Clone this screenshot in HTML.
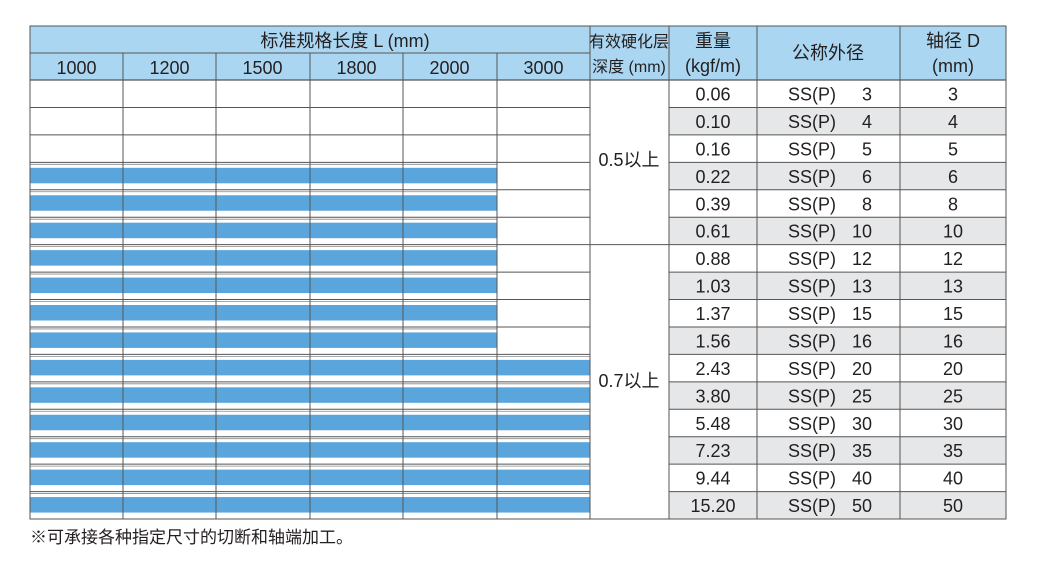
<!DOCTYPE html><html><head><meta charset="utf-8"><style>body{margin:0;background:#fff}svg text{font-family:"Liberation Sans","Noto Sans CJK SC",sans-serif;fill:#231f20}</style></head><body>
<svg width="1039" height="566" xmlns="http://www.w3.org/2000/svg">
<rect x="30" y="26" width="976" height="54" fill="#abd6f1"/>
<g id="rows"></g>
</svg>
<script>
(function(){
const ns="http://www.w3.org/2000/svg",g=document.getElementById("rows");
function el(t,a,txt){const e=document.createElementNS(ns,t);for(const k in a)e.setAttribute(k,a[k]);if(txt!=null)e.textContent=String(txt);g.appendChild(e);return e;}
const T0=80,RH=(519-80)/16,FS=18;
const w=["0.06","0.10","0.16","0.22","0.39","0.61","0.88","1.03","1.37","1.56","2.43","3.80","5.48","7.23","9.44","15.20"];
const d=[3,4,5,6,8,10,12,13,15,16,20,25,30,35,40,50];
for(let i=0;i<16;i++){const y=T0+i*RH;
 if(i%2==1)el("rect",{x:669,y:y,width:337,height:RH,fill:"#e6e7e8"});
 if(i>=3){const x2=i>=10?590:497;el("rect",{x:30,y:y+5.5,width:x2-30,height:15.5,fill:"#5aa6dc"});
  el("line",{x1:30,x2:x2,y1:y+2,y2:y+2,stroke:"#888","stroke-width":0.8});}
 el("text",{x:713,y:y+20.5,"text-anchor":"middle","font-size":FS},w[i]);
 el("text",{x:788,y:y+20.5,"font-size":FS},"SS(P)");
 el("text",{x:872,y:y+20.5,"text-anchor":"end","font-size":FS},d[i]);
 el("text",{x:953,y:y+20.5,"text-anchor":"middle","font-size":FS},d[i]);
 el("line",{x1:30,x2:590,y1:y,y2:y,stroke:"#555","stroke-width":1});
 el("line",{x1:669,x2:1006,y1:y,y2:y,stroke:"#555","stroke-width":1});
}
el("line",{x1:590,x2:669,y1:T0+6*RH,y2:T0+6*RH,stroke:"#555"});
el("line",{x1:30,x2:590,y1:53,y2:53,stroke:"#555"});
[30,123,216,310,403,497].forEach((x,i)=>{el("line",{x1:x,x2:x,y1:i?53:26,y2:519,stroke:"#555"});
 el("text",{x:x+46.5,y:74,"text-anchor":"middle","font-size":FS},["1000","1200","1500","1800","2000","3000"][i]);});
[590,669,757,900,1006].forEach(x=>el("line",{x1:x,x2:x,y1:26,y2:519,stroke:"#555"}));
el("rect",{x:30,y:26,width:976,height:493,fill:"none",stroke:"#555"});
el("line",{x1:30,x2:1006,y1:80,y2:80,stroke:"#555","stroke-width":1.2});
el("text",{x:345,y:47,"text-anchor":"middle","font-size":FS},"标准规格长度  L (mm)");
el("text",{x:629,y:47,"text-anchor":"middle","font-size":16},"有效硬化层");
el("text",{x:629,y:72,"text-anchor":"middle","font-size":16},"深度 (mm)");
el("text",{x:713,y:47,"text-anchor":"middle","font-size":FS},"重量");
el("text",{x:713,y:72,"text-anchor":"middle","font-size":FS},"(kgf/m)");
el("text",{x:828,y:59,"text-anchor":"middle","font-size":FS},"公称外径");
el("text",{x:953,y:47,"text-anchor":"middle","font-size":FS},"轴径 D");
el("text",{x:953,y:72,"text-anchor":"middle","font-size":FS},"(mm)");
el("text",{x:629,y:166,"text-anchor":"middle","font-size":FS},"0.5以上");
el("text",{x:629,y:387,"text-anchor":"middle","font-size":FS},"0.7以上");
el("text",{x:30,y:543,"font-size":17},"※可承接各种指定尺寸的切断和轴端加工。");
})();
</script>
</body></html>
